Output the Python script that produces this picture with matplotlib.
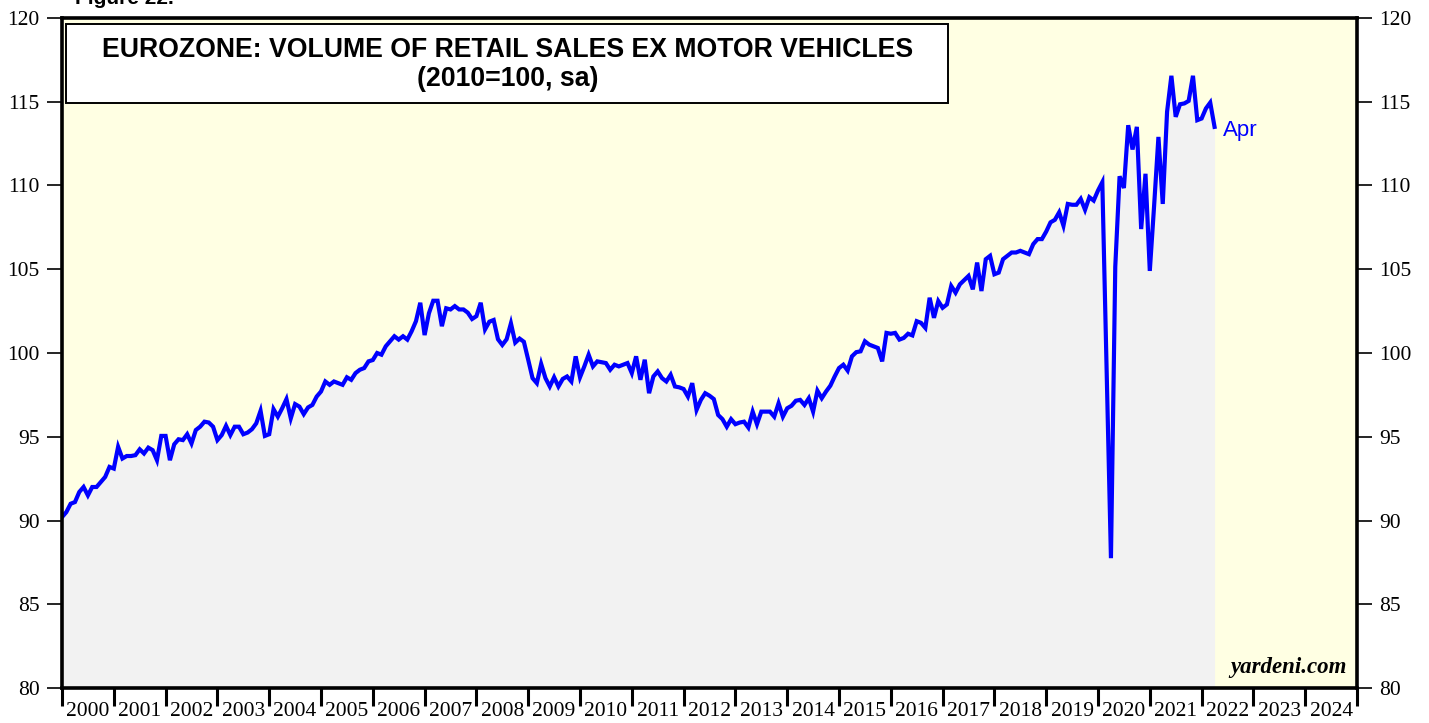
import matplotlib
matplotlib.use("Agg")
import matplotlib.pyplot as plt
from matplotlib.patches import Rectangle
import numpy as np

# monthly index values, Jan 2000 .. Apr 2022
y2000 = [90.2, 90.5, 91.0, 91.1, 91.7, 92.0, 91.5, 92.0, 92.0, 92.3, 92.6, 93.2]
y2001 = [93.1, 94.4, 93.7, 93.85, 93.85, 93.9, 94.25, 94.0, 94.35, 94.2, 93.6, 95.05]
y2002 = [95.05, 93.6, 94.55, 94.85, 94.8, 95.15, 94.6, 95.4, 95.6, 95.9, 95.85, 95.6]
y2003 = [94.8, 95.1, 95.65, 95.1, 95.6, 95.6, 95.15, 95.25, 95.45, 95.8, 96.55, 95.05]
y2004 = [95.15, 96.65, 96.2, 96.7, 97.25, 96.1, 96.95, 96.8, 96.35, 96.75, 96.9, 97.4]
y2005 = [97.7, 98.3, 98.1, 98.3, 98.2, 98.1, 98.55, 98.4, 98.8, 99.0, 99.1, 99.5]
y2006 = [99.58, 100.0, 99.9, 100.4, 100.7, 101.0, 100.8, 101.0, 100.8, 101.3, 101.9, 103.0]
y2007 = [101.07, 102.37, 103.12, 103.12, 101.6, 102.67, 102.6, 102.8, 102.6, 102.6, 102.41, 102.03]
y2008 = [102.2, 103.0, 101.41, 101.87, 101.97, 100.82, 100.48, 100.82, 101.77, 100.62, 100.86, 100.67]
y2009 = [99.6, 98.5, 98.2, 99.35, 98.5, 98.0, 98.55, 98.0, 98.45, 98.6, 98.3, 99.8]
y2010 = [98.55, 99.2, 99.9, 99.2, 99.5, 99.45, 99.4, 99.0, 99.3, 99.2, 99.3, 99.4]
y2011 = [98.8, 99.8, 98.4, 99.6, 97.6, 98.6, 98.9, 98.5, 98.3, 98.7, 98.0, 97.95]
y2012 = [97.85, 97.4, 98.2, 96.6, 97.2, 97.6, 97.45, 97.25, 96.3, 96.05, 95.6, 96.05]
y2013 = [95.75, 95.85, 95.9, 95.55, 96.5, 95.75, 96.5, 96.5, 96.5, 96.2, 97.0, 96.2]
y2014 = [96.7, 96.85, 97.15, 97.2, 96.9, 97.3, 96.5, 97.75, 97.3, 97.7, 98.05, 98.6]
y2015 = [99.1, 99.3, 98.95, 99.8, 100.05, 100.1, 100.7, 100.5, 100.4, 100.3, 99.5, 101.2]
y2016 = [101.15, 101.2, 100.8, 100.9, 101.15, 101.05, 101.9, 101.8, 101.5, 103.3, 102.1, 103.1]
y2017 = [102.7, 102.9, 104.0, 103.6, 104.1, 104.35, 104.6, 103.8, 105.4, 103.7, 105.6, 105.8]
y2018 = [104.7, 104.8, 105.6, 105.8, 106.0, 106.0, 106.1, 106.0, 105.9, 106.5, 106.8, 106.8]
y2019 = [107.25, 107.8, 107.95, 108.4, 107.6, 108.9, 108.85, 108.85, 109.2, 108.55, 109.3, 109.1]
y2020 = [109.7, 110.2, 99.0, 87.75, 105.15, 110.55, 109.85, 113.6, 112.15, 113.5, 107.4, 110.7]
y2021 = [104.9, 108.8, 112.9, 108.9, 114.4, 116.55, 114.1, 114.85, 114.9, 115.05, 116.55, 113.9]
y2022 = [114.0, 114.6, 114.95, 113.5]

sales = (y2000 + y2001 + y2002 + y2003 + y2004 + y2005 + y2006 + y2007 + y2008
         + y2009 + y2010 + y2011 + y2012 + y2013 + y2014 + y2015 + y2016 + y2017
         + y2018 + y2019 + y2020 + y2021 + y2022)
dates = 2000 + np.arange(len(sales)) / 12.0

years = list(range(2000, 2025))
yticks = [80, 85, 90, 95, 100, 105, 110, 115, 120]

W, H = 1429, 723
x0, x1, ytop, ybot = 62, 1357, 18, 688

fig = plt.figure(figsize=(W / 100, H / 100), dpi=100)
ax = fig.add_axes([x0/W, 1 - ybot/H, (x1-x0)/W, (ybot-ytop)/H])
ax.set_facecolor("#FFFFE3")

ax.fill_between(dates, sales, 80, color="#F2F2F2", lw=0)
ax.plot(dates, sales, color="#0000FF", lw=3.0, solid_joinstyle="miter")

ax.set_xlim(2000, 2025)
ax.set_ylim(80, 120)

serif = "Liberation Serif"
ax.set_yticks(yticks)
ax.set_yticklabels([str(v) for v in yticks], fontfamily=serif, fontsize=15.5)
ax.tick_params(axis="y", which="major", direction="out", length=11, width=1.2,
               left=True, right=True, labelleft=True, labelright=True, pad=5)

ax.set_xticks(years + [2025])
ax.set_xticklabels([])
ax.set_xticks([y + 0.5 for y in years], minor=True)
ax.set_xticklabels([str(y) for y in years], minor=True, fontfamily=serif, fontsize=15.5)
ax.tick_params(axis="x", which="major", direction="out", length=13, width=2.2)
ax.tick_params(axis="x", which="minor", length=0, pad=10)

for s in ax.spines.values():
    s.set_linewidth(2.6)

# title box (pixel positions converted to axes fractions)
def ax_x(px):
    return (px - x0) / (x1 - x0)

def ax_y(py):
    return (ybot - py) / (ybot - ytop)

ax.add_patch(Rectangle((ax_x(66), ax_y(103)), ax_x(948) - ax_x(66), ax_y(24) - ax_y(103),
                       transform=ax.transAxes, facecolor="white", edgecolor="black",
                       lw=1.4, zorder=5))
ax.text(ax_x(508), ax_y(50), "EUROZONE: VOLUME OF RETAIL SALES EX MOTOR VEHICLES",
        transform=ax.transAxes, ha="center", va="center", fontsize=19.2,
        fontweight="bold", fontfamily="Liberation Sans", zorder=6)
ax.text(ax_x(508), ax_y(79), "(2010=100, sa)",
        transform=ax.transAxes, ha="center", va="center", fontsize=19.2,
        fontweight="bold", fontfamily="Liberation Sans", zorder=6)

ax.text(dates[-1] + 0.17, sales[-1] - 0.2, "Apr", color="#0000FF", fontsize=16,
        fontfamily="Liberation Sans", va="center", ha="left")

ax.text(0.992, 0.015, "yardeni.com", transform=ax.transAxes, ha="right", va="bottom",
        fontsize=16.5, fontweight="bold", fontstyle="italic", fontfamily=serif)

fig.text(75/W, 1 - 4/H, "Figure 22.", fontsize=15, fontweight="bold",
         fontfamily="Liberation Sans", va="baseline")

fig.savefig("out.png", dpi=100)
